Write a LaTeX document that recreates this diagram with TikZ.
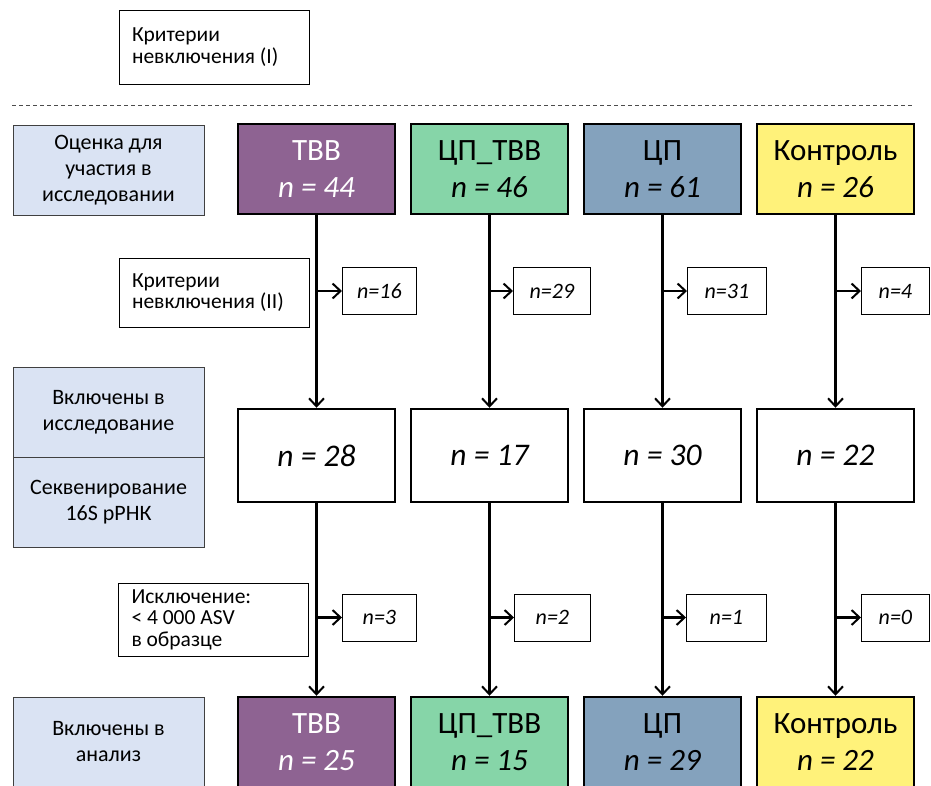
\documentclass[tikz,border=0pt]{standalone}
\usepackage{fontspec}
\setmainfont{Carlito}
\usetikzlibrary{arrows.meta,positioning}

\definecolor{tvbcol}{RGB}{142,99,146}
\definecolor{cptvbcol}{RGB}{134,213,168}
\definecolor{cpcol}{RGB}{132,162,189}
\definecolor{ctrlcol}{RGB}{255,242,122}
\definecolor{stagecol}{RGB}{218,227,243}

\tikzset{
  grp/.style={draw, line width=2.5pt, minimum width=157pt, minimum height=90pt, inner sep=0pt, align=flush center, font=\fontsize{31}{37}\selectfont},
  cnt/.style={draw, line width=2.5pt, minimum width=157pt, minimum height=93pt, inner sep=0pt, font=\fontsize{31.5}{37}\selectfont\itshape},
  stage/.style={draw=black!75, line width=0.8pt, fill=stagecol, minimum width=191pt, minimum height=90pt, inner sep=0pt, align=flush center, font=\fontsize{22}{26}\selectfont},
  crit/.style={draw, line width=0.8pt, text width=164pt, inner xsep=13pt, inner ysep=0pt, align=flush left, font=\fontsize{21.5}{21.5}\selectfont},
  excl/.style={draw, line width=0.8pt, minimum width=74pt, minimum height=47pt, inner sep=0pt, anchor=west, font=\fontsize{22}{24}\selectfont\itshape},
  flow/.style={line width=2.2pt, -{Straight Barb[length=8pt,width=15pt,line width=2pt]}}
}

\begin{document}
\begin{tikzpicture}[x=1pt,y=-1pt]
\useasboundingbox (0,0) rectangle (931,785);

% criteria before the cut
\node[crit, minimum height=74pt] (critI) at (214,47) {Критерии\\невключения (I)};
\draw[black!70, line width=0.8pt, dash pattern=on 4pt off 3pt] (12,105) -- (913,105);

% stage labels
\node[stage] (sAssess) at (108.5,170) {Оценка для\\участия в\\исследовании};
\node[stage] (sIncl) at (108.5,412.5) {Включены в\\исследование};
\node[stage] (sSeq) at (108.5,502) {Секвенирование\\16S рРНК};
\node[stage] (sAnal) at (108.5,742) {Включены в\\анализ};

% groups, first row
\node[grp, fill=tvbcol, text=white] (tvbA) at (316.5,169) {ТВВ\\\textit{n = 44}};
\node[grp, fill=cptvbcol] (cptvbA) at (489.5,169) {ЦП\_ТВВ\\\textit{n = 46}};
\node[grp, fill=cpcol] (cpA) at (662.5,169) {ЦП\\\textit{n = 61}};
\node[grp, fill=ctrlcol] (ctrlA) at (835.5,169) {Контроль\\\textit{n = 26}};

% second row
\node[cnt] (tvbB) at (316.5,455.5) {n = 28};
\node[cnt] (cptvbB) at (489.5,455.5) {n = 17};
\node[cnt] (cpB) at (662.5,455.5) {n = 30};
\node[cnt] (ctrlB) at (835.5,455.5) {n = 22};

% last row
\node[grp, fill=tvbcol, text=white] (tvbC) at (316.5,742) {ТВВ\\\textit{n = 25}};
\node[grp, fill=cptvbcol] (cptvbC) at (489.5,742) {ЦП\_ТВВ\\\textit{n = 15}};
\node[grp, fill=cpcol] (cpC) at (662.5,742) {ЦП\\\textit{n = 29}};
\node[grp, fill=ctrlcol] (ctrlC) at (835.5,742) {Контроль\\\textit{n = 22}};

% exclusion criteria
\node[crit, minimum height=69pt] (critII) at (214,292.5) {Критерии\\невключения (II)};
\node[crit, minimum height=73pt] (critIII) at (213.5,619.5) {Исключение:\\< 4 000 ASV\\в образце};

% dropouts
\node[excl] (tvbX) at (342,291) {n=16};
\node[excl, minimum width=77pt] (cptvbX) at (513,291) {n=29};
\node[excl, minimum width=79pt] (cpX) at (687,291) {n=31};
\node[excl, minimum width=68pt] (ctrlX) at (861,291) {n=4};
\node[excl] (tvbY) at (342,617.5) {n=3};
\node[excl, minimum width=76pt] (cptvbY) at (514,617.5) {n=2};
\node[excl, minimum width=80pt] (cpY) at (686,617.5) {n=1};
\node[excl, minimum width=68pt] (ctrlY) at (861,617.5) {n=0};

% flows
\foreach \g in {tvb,cptvb,cp,ctrl} {
  \draw[flow] (\g A) -- (\g B);
  \draw[flow] (\g B) -- (\g C);
  \draw[flow] (\g A.south |- \g X.west) -- (\g X.west);
  \draw[flow] (\g B.south |- \g Y.west) -- (\g Y.west);
}
\end{tikzpicture}
\end{document}
